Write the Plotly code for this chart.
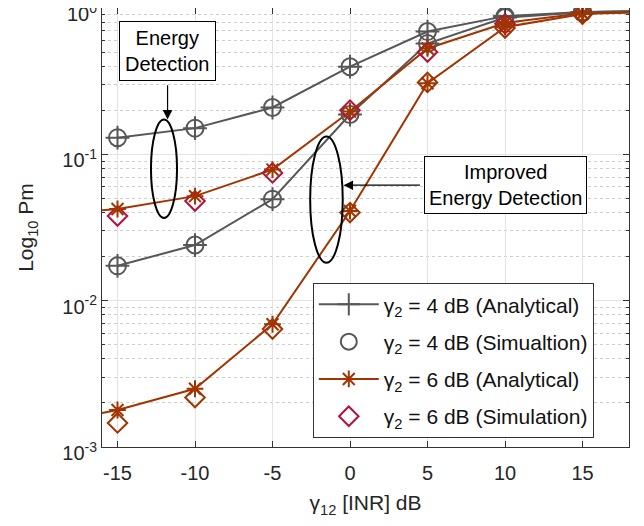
import plotly.graph_objects as go

# ---- data ----
x_pts = [-15, -10, -5, 0, 5, 10, 15]
# analytical curves (sampled at markers), plus line ends
ed4_ana = [0.130, 0.151, 0.209, 0.397, 0.69, 0.88, 0.94]
ied4_ana = [0.0173, 0.024, 0.0494, 0.187, 0.571, 0.86, 0.935]
ed6_ana = [0.0423, 0.0518, 0.0787, 0.196, 0.529, 0.79, 0.92]
ied6_ana = [0.00179, 0.0025, 0.0069, 0.041, 0.306, 0.74, 0.91]
# simulation values
ed4_sim = [0.130, 0.151, 0.209, 0.397, 0.69, 0.88, 0.94]
ied4_sim = [0.0173, 0.024, 0.0494, 0.187, 0.571, 0.86, 0.935]
ed6_sim = [0.0379, 0.048, 0.0746, 0.200, 0.50, 0.78, 0.915]
ied6_sim = [0.00146, 0.00218, 0.0064, 0.040, 0.31, 0.73, 0.91]
# line extension values at x = -16 (left) and 18 (right)
left_x = -16
right_x = 18
ed4_right, ied4_right, ed6_right, ied6_right = 0.95, 0.95, 0.93, 0.93
ed6_left, ied6_left = 0.0415, 0.00171

x_ticks = [-15, -10, -5, 0, 5, 10, 15]
x_ticktext = ["-15", "-10", "-5", "0", "5", "10", "15"]
y_tickvals = [0.001, 0.01, 0.1, 1]
y_ticktext = ["10<sup>-3</sup>", "10<sup>-2</sup>", "10<sup>-1</sup>", "10<sup>0</sup>"]
y_minor = [m * d for d in (0.001, 0.01, 0.1) for m in range(2, 10)]

GREY = "#575757"
BROWN = "#a23400"
CRIMSON = "#b3123d"
FONT = "Liberation Sans, Arial, Helvetica, sans-serif"

fig = go.Figure()

def line(xv, yv, color):
    fig.add_trace(go.Scatter(x=xv, y=yv, mode="lines", line=dict(color=color, width=2),
                             showlegend=False, hoverinfo="skip"))

def marks(yv, color, symbol, size, lw=2):
    fig.add_trace(go.Scatter(x=x_pts, y=yv, mode="markers",
                             marker=dict(symbol=symbol, size=size, color=color,
                                         line=dict(color=color, width=lw)),
                             showlegend=False))

# lines
line(x_pts + [right_x], ed4_ana + [ed4_right], GREY)
line(x_pts + [right_x], ied4_ana + [ied4_right], GREY)
line([left_x] + x_pts + [right_x], [ed6_left] + ed6_ana + [ed6_right], BROWN)
line([left_x] + x_pts + [right_x], [ied6_left] + ied6_ana + [ied6_right], BROWN)

# markers
marks(ed4_sim, GREY, "circle-open", 17)
marks(ied4_sim, GREY, "circle-open", 17)
marks(ed4_ana, GREY, "cross-thin-open", 17)
marks(ied4_ana, GREY, "cross-thin-open", 17)
marks(ed6_sim, CRIMSON, "diamond-open", 15)
marks(ied6_sim, BROWN, "diamond-open", 15)
marks(ed6_ana, BROWN, "asterisk-open", 14)
marks(ied6_ana, BROWN, "asterisk-open", 14)

# legend entries
fig.add_trace(go.Scatter(x=[None], y=[None], mode="lines+markers", legendgroup="a",
                         name="γ<sub>2</sub> = 4 dB (Analytical)",
                         line=dict(color=GREY, width=2),
                         marker=dict(symbol="cross-thin-open", size=17, color=GREY, line=dict(color=GREY, width=2))))
fig.add_trace(go.Scatter(x=[None], y=[None], mode="markers", legendgroup="b",
                         name="γ<sub>2</sub> = 4 dB (Simualtion)",
                         marker=dict(symbol="circle-open", size=16, color=GREY, line=dict(color=GREY, width=2))))
fig.add_trace(go.Scatter(x=[None], y=[None], mode="lines+markers", legendgroup="c",
                         name="γ<sub>2</sub> = 6 dB (Analytical)",
                         line=dict(color=BROWN, width=2),
                         marker=dict(symbol="asterisk-open", size=14, color=BROWN, line=dict(color=BROWN, width=2))))
fig.add_trace(go.Scatter(x=[None], y=[None], mode="markers", legendgroup="d",
                         name="γ<sub>2</sub> = 6 dB (Simulation)",
                         marker=dict(symbol="diamond-open", size=15, color=CRIMSON, line=dict(color=CRIMSON, width=2))))

# ellipses
fig.add_shape(type="circle", xref="x", yref="y", x0=-12.84, x1=-11.16,
              y0=10 ** -1.435, y1=10 ** -0.762, line=dict(color="black", width=2))
fig.add_shape(type="circle", xref="x", yref="y", x0=-2.57, x1=-0.47,
              y0=10 ** -1.741, y1=10 ** -0.878, line=dict(color="black", width=2))

# text boxes
fig.add_annotation(x=-11.77, y=-0.292, xref="x", yref="y", showarrow=False,
                   text="Energy<br>Detection", font=dict(size=20, color="black", family=FONT),
                   bordercolor="black", borderwidth=1, bgcolor="white", borderpad=5)
fig.add_annotation(x=10.03, y=-1.211, xref="x", yref="y", showarrow=False,
                   text="Improved<br>Energy Detection", font=dict(size=20, color="black", family=FONT),
                   bordercolor="black", borderwidth=1, bgcolor="white", borderpad=4)
# arrows
fig.add_annotation(x=-11.77, y=-0.762, ax=-11.77, ay=-0.517, xref="x", yref="y",
                   axref="x", ayref="y", text="", showarrow=True, arrowhead=2,
                   arrowsize=1.6, arrowwidth=1.2, arrowcolor="black")
fig.add_annotation(x=-0.42, y=-1.211, ax=4.61, ay=-1.211, xref="x", yref="y",
                   axref="x", ayref="y", text="", showarrow=True, arrowhead=2,
                   arrowsize=1.6, arrowwidth=1.2, arrowcolor="black")

fig.update_layout(
    width=644, height=526,
    margin=dict(l=94, r=23, t=0, b=87),
    plot_bgcolor="white", paper_bgcolor="white",
    font=dict(family=FONT, size=20, color="#262626"),
    legend=dict(x=0.4, y=0.02, xanchor="left", yanchor="bottom",
                bordercolor="#333333", borderwidth=1, bgcolor="white",
                font=dict(size=21, color="#111111"), tracegroupgap=7, itemwidth=60),
    xaxis=dict(range=[-16, 18], tickvals=x_ticks, ticktext=x_ticktext, showgrid=True,
               gridcolor="#e3e3e3", gridwidth=1, zeroline=False, showline=True,
               linecolor="#333333", linewidth=1, mirror="ticks", ticks="inside", ticklen=6,
               tickcolor="#333333", tickfont=dict(size=20, color="#262626"),
               ticklabelstandoff=8, automargin=False,
               title=dict(text="γ<sub>12</sub> [INR] dB", font=dict(size=21, color="#262626"),
                          standoff=12)),
    yaxis=dict(type="log", range=[-3, 0], tickvals=y_tickvals, ticktext=y_ticktext,
               showgrid=True, gridcolor="#e3e3e3", gridwidth=1, zeroline=False,
               showline=True, linecolor="#333333", linewidth=1, mirror="ticks",
               ticks="inside", ticklen=6, tickcolor="#333333",
               tickfont=dict(size=20, color="#262626"), ticklabeloverflow="allow",
               ticklabelshift=6, automargin=False,
               minor=dict(tickvals=y_minor, showgrid=True, gridcolor="#cfcfcf", griddash="dot",
                          ticks="inside", ticklen=3, tickcolor="#333333"),
               title=dict(text="Log<sub>10</sub> Pm", font=dict(size=21, color="#262626"),
                          standoff=22)),
)

fig.write_html("out.html")
